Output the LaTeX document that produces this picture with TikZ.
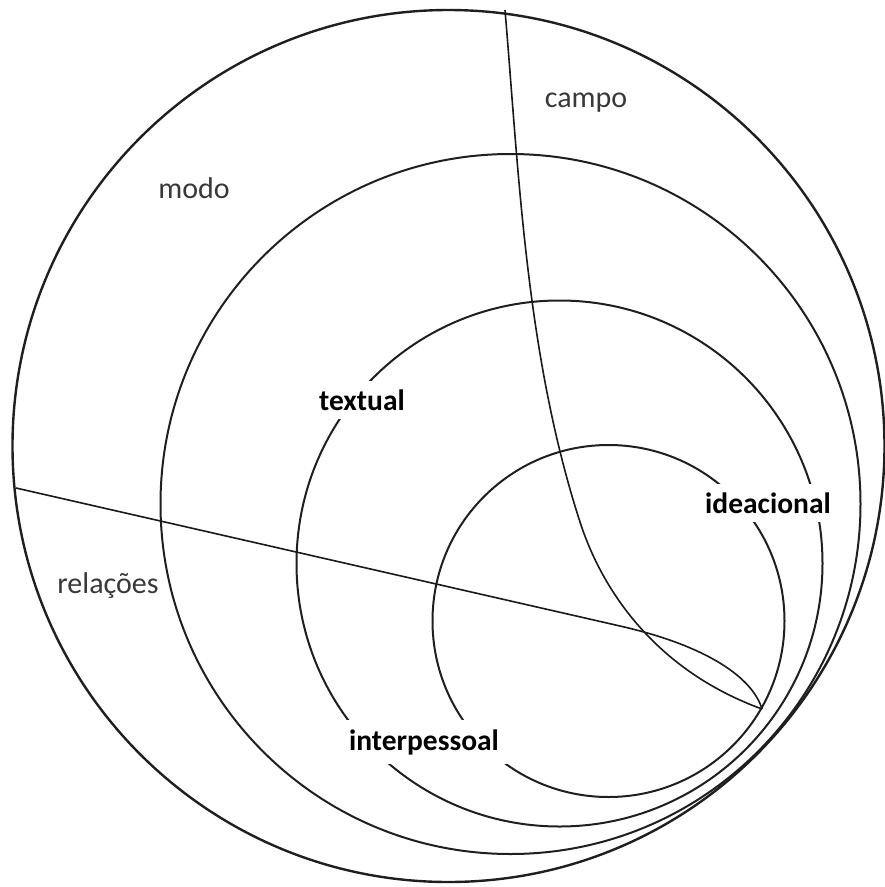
\documentclass[tikz,border=0pt]{standalone}
\usepackage{fontspec}
\setmainfont{Carlito}
\begin{document}
\begin{tikzpicture}[x=1pt,y=-1pt,
  ring/.style={draw=black!88, line width=2pt},
  outerring/.style={draw=black!88, line width=2.4pt},
  divider/.style={draw=black!90, line width=1.6pt, line join=round},
  soft/.style={font=\fontsize{30}{32}\selectfont, text=black!78},
  strong/.style={font=\fontsize{29.5}{31}\selectfont\bfseries, text=black, fill=white, inner xsep=6pt, inner ysep=9pt}]
\useasboundingbox (0,0) rectangle (885,887);
% circles
\coordinate (c1) at (448.5,446);
\coordinate (c2) at (510.5,504);
\coordinate (c3) at (559.5,563.5);
\coordinate (c4) at (608.5,621);
\draw[outerring] (c1) circle[radius=436];
\draw[ring] (c2) circle[radius=350];
\draw[ring] (c3) circle[radius=263];
\draw[ring] (c4) circle[radius=176];
% dividing curves
\coordinate (ctop) at (505,10);
\coordinate (cbend) at (580,522);
\coordinate (rleft) at (16,488);
\coordinate (rbend) at (620,626);
\coordinate (tip) at (762,709);
\draw[divider] (ctop) .. controls (519,175) and (526,355) .. (cbend)
  .. controls (602,590) and (655,670) .. (tip);
\draw[divider] (rleft) -- (rbend) .. controls (710,646.5) and (753,679) .. (tip);
% labels
\node[soft] (campo) at (586,103) {campo};
\node[soft] (modo) at (194,188) {modo};
\node[soft] (rel) at (108,586) {relações};
\node[strong] (textual) at (362,400) {textual};
\node[strong] (idea) at (768,503) {ideacional};
\node[strong, inner xsep=10pt] (inter) at (424,742) {interpessoal};
\end{tikzpicture}
\end{document}
